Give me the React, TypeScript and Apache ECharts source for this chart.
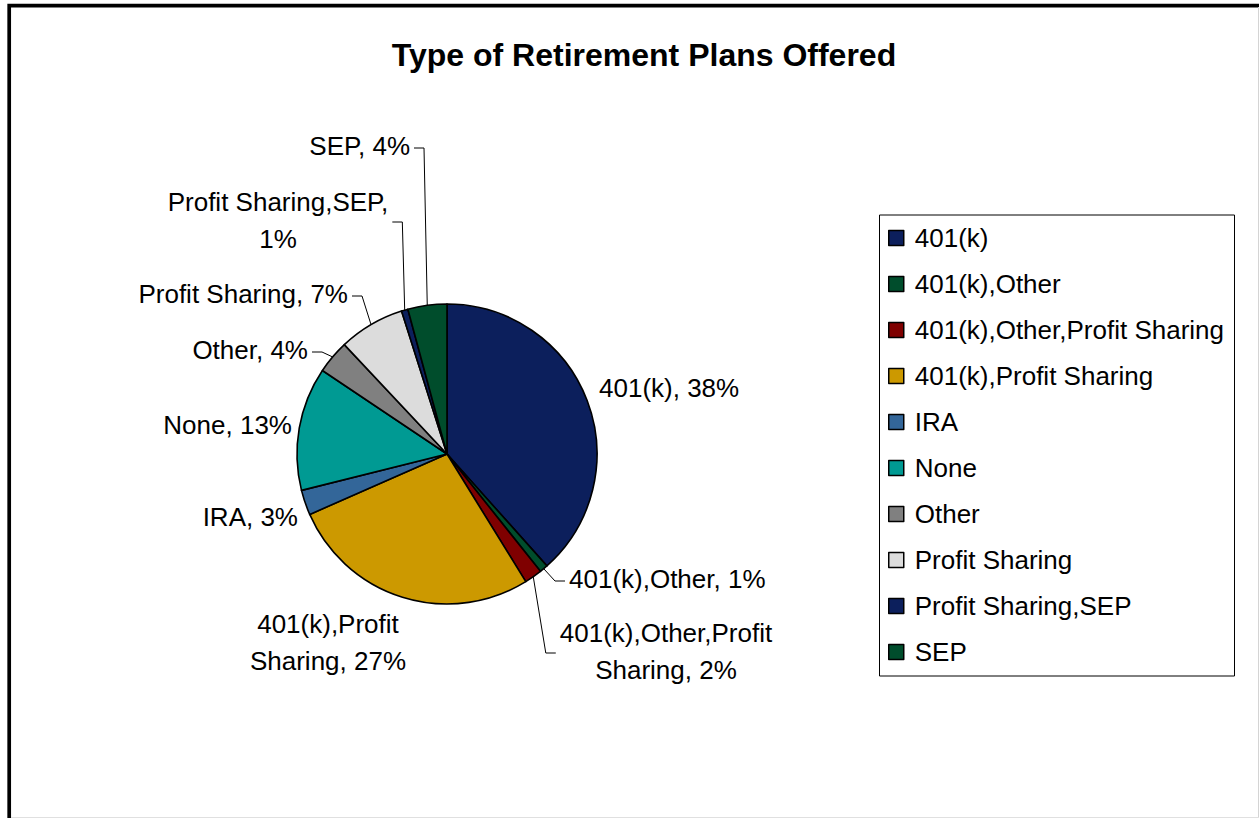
import React, { useEffect, useRef } from "react";
import * as echarts from "echarts";

const categories = [
  "401(k)",
  "401(k),Other",
  "401(k),Other,Profit Sharing",
  "401(k),Profit Sharing",
  "IRA",
  "None",
  "Other",
  "Profit Sharing",
  "Profit Sharing,SEP",
  "SEP",
];
const shares = [38.4, 0.9, 1.9, 27.2, 2.7, 13.3, 3.6, 7.1, 0.7, 4.2];

const palette = [
  "#0c1f5c",
  "#004d2c",
  "#7f0000",
  "#cc9900",
  "#336699",
  "#009a93",
  "#808080",
  "#dcdcdc",
  "#0c1f5c",
  "#004d2c",
];
const labelBreak = ["none", "none", "first", "first", "none", "none", "none", "none", "last", "none"];
const leaderShown = [false, true, true, false, false, false, true, true, true, true];
const labelSpots = [
  { x: 599, y: 388, align: "left" },
  { x: 569, y: 579, align: "left" },
  { x: 666, y: 651, align: "center" },
  { x: 328, y: 642, align: "center" },
  { x: 298, y: 517, align: "right" },
  { x: 292, y: 425, align: "right" },
  { x: 308, y: 350, align: "right" },
  { x: 348, y: 294, align: "right" },
  { x: 278, y: 220, align: "center" },
  { x: 410, y: 146, align: "right" },
];

const FONT = "'Liberation Sans', Arial, sans-serif";

function breakText(text: string, mode: string) {
  if (mode === "first") {
    const i = text.indexOf(" ");
    return i < 0 ? text : text.slice(0, i) + "\n" + text.slice(i + 1);
  }
  if (mode === "last") {
    const i = text.lastIndexOf(" ");
    return i < 0 ? text : text.slice(0, i) + "\n" + text.slice(i + 1);
  }
  return text;
}

export default function App() {
  const ref = useRef<HTMLDivElement>(null);
  useEffect(() => {
    document.body.style.margin = "0";
    const chart = echarts.init(ref.current!, null, { renderer: "svg" });
    const option: any = {
      animation: false,
      backgroundColor: "#ffffff",
      color: palette,
      graphic: [
        {
          type: "rect",
          shape: { x: 9.2, y: 5.7, width: 1400, height: 1000 },
          style: { fill: "none", stroke: "#000", lineWidth: 3.7 },
          silent: true,
        },
        {
          type: "line",
          shape: { x1: 1258.5, y1: 7, x2: 1258.5, y2: 818 },
          style: { stroke: "#d4d4d4", lineWidth: 1 },
          silent: true,
        },
        {
          type: "line",
          shape: { x1: 11, y1: 817.5, x2: 1259, y2: 817.5 },
          style: { stroke: "#e0e0e0", lineWidth: 1 },
          silent: true,
        },
        {
          type: "rect",
          shape: { x: 879.5, y: 215, width: 355, height: 461 },
          style: { fill: "#fff", stroke: "#000", lineWidth: 1 },
          silent: true,
          z: -1,
        },
        {
          type: "text",
          x: 644,
          y: 55,
          style: {
            text: "Type of Retirement Plans Offered",
            fill: "#000",
            font: `bold 32px ${FONT}`,
            align: "center",
            verticalAlign: "middle",
          },
        },
      ],
      legend: {
        orient: "vertical",
        left: 888,
        top: 224,
        padding: 0,
        itemWidth: 15,
        itemHeight: 15,
        itemGap: 18,
        icon: "rect",
        itemStyle: { borderColor: "#000", borderWidth: 1.5 },
        textStyle: {
          color: "#000",
          fontFamily: FONT,
          fontSize: 26,
          lineHeight: 28,
          padding: [0, 0, 0, 6],
        },
        data: categories,
      },
      series: [
        {
          type: "pie",
          center: [447, 454],
          radius: 150,
          startAngle: 90,
          clockwise: true,
          avoidLabelOverlap: false,
          percentPrecision: 1,
          itemStyle: { borderColor: "#000", borderWidth: 1.6 },
          emphasis: { disabled: true },
          label: {
            show: true,
            position: "outside",
            color: "#000",
            fontFamily: FONT,
            fontSize: 26,
            lineHeight: 37,
            formatter: (p: any) =>
              breakText(`${p.name}, ${Math.round(p.percent)}%`, labelBreak[p.dataIndex]),
          },
          labelLine: {
            show: true,
            length: 10,
            length2: 10,
            lineStyle: { color: "#000", width: 1 },
          },
          labelLayout: (p: any) => {
            const s = labelSpots[p.dataIndex];
            const w = p.labelRect.width;
            let left = s.x;
            let right = s.x + w;
            if (s.align === "right") {
              left = s.x - w;
              right = s.x;
            } else if (s.align === "center") {
              left = s.x - w / 2;
              right = s.x + w / 2;
            }
            const res: any = {
              x: s.x,
              y: s.y,
              align: s.align,
              verticalAlign: "middle",
              hideOverlap: false,
              moveOverlap: false,
            };
            const pts = p.labelLinePoints;
            if (pts && pts[0]) {
              const start = pts[0];
              if (right < start[0]) {
                res.labelLinePoints = [start, [right + 14, s.y + 2], [right + 4, s.y + 2]];
              } else {
                res.labelLinePoints = [start, [left - 14, s.y + 2], [left - 4, s.y + 2]];
              }
            }
            return res;
          },
          data: categories.map((name, i) => ({
            name,
            value: shares[i],
            labelLine: { show: leaderShown[i] },
          })),
        },
      ],
    };
    chart.setOption(option);
    return () => chart.dispose();
  }, []);
  return <div ref={ref} style={{ width: 1259, height: 818, overflow: "hidden" }} />;
}
